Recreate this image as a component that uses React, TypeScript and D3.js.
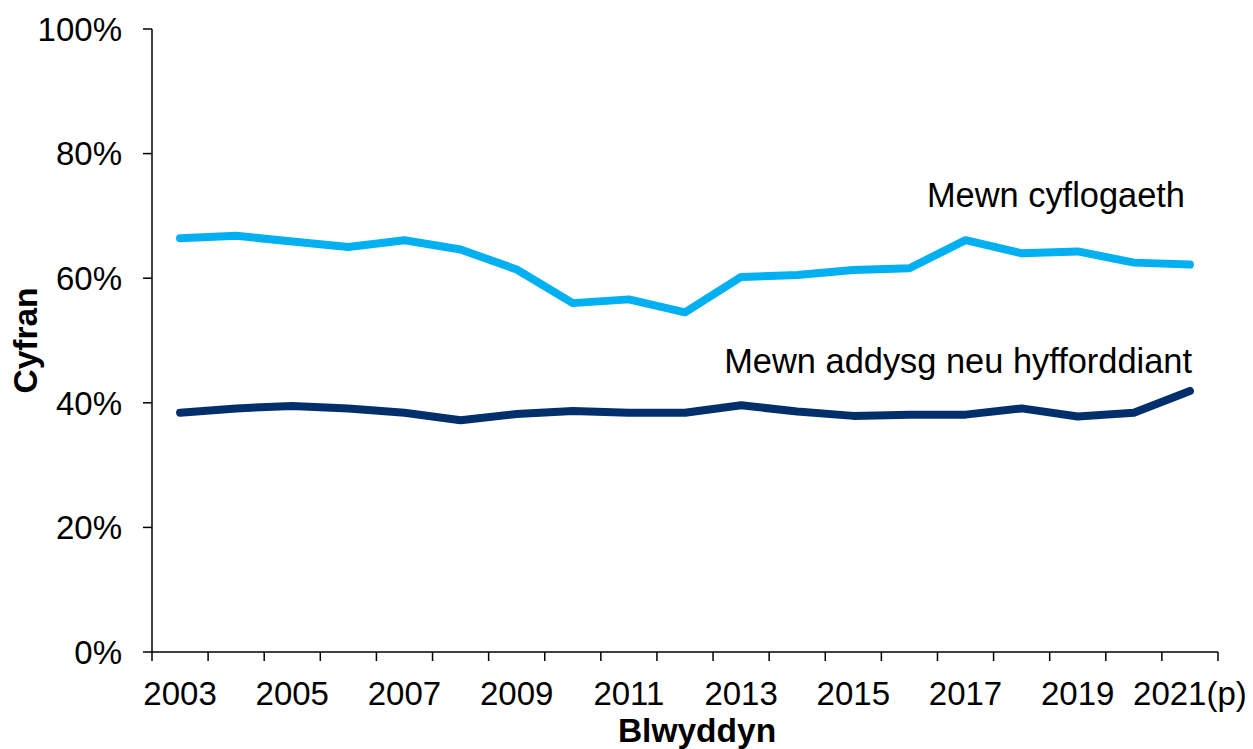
import React from "react";
import * as d3 from "d3";

// years on the x axis (last one provisional)
const years = [
  "2003", "2004", "2005", "2006", "2007", "2008", "2009", "2010", "2011", "2012",
  "2013", "2014", "2015", "2016", "2017", "2018", "2019", "2020", "2021(p)",
];

// share in employment (%)
const employment = [
  66.4, 66.8, 65.9, 65.0, 66.1, 64.6, 61.4, 56.0, 56.6, 54.5,
  60.2, 60.5, 61.3, 61.6, 66.1, 64.0, 64.3, 62.5, 62.2,
];

// share in education or training (%)
const education = [
  38.4, 39.1, 39.5, 39.1, 38.4, 37.2, 38.2, 38.7, 38.4, 38.4,
  39.6, 38.6, 37.9, 38.1, 38.1, 39.1, 37.8, 38.4, 41.9,
];

const yTicks = [0, 20, 40, 60, 80, 100];

const W = 1253;
const H = 749;
const margin = { top: 29, right: 35, bottom: 97, left: 152 };
const font = "Arial, 'Liberation Sans', sans-serif";

export default function App() {
  const x = d3
    .scaleBand()
    .domain(years)
    .range([margin.left, W - margin.right]);

  const y = d3
    .scaleLinear()
    .domain([0, 100])
    .range([H - margin.bottom, margin.top]);

  const cx = (i: number) => (x(years[i]) as number) + x.bandwidth() / 2;

  const line = d3
    .line<number>()
    .x((_, i) => cx(i))
    .y((d) => y(d));

  const x0 = margin.left;
  const x1 = W - margin.right;
  const yBase = y(0);

  return (
    <svg
      width={W}
      height={H}
      style={{ position: "absolute", left: 0, top: 0, background: "#fff" }}
      fontFamily={font}
    >
      {/* y axis */}
      <line x1={x0} x2={x0} y1={y(100)} y2={yBase} stroke="#000" strokeWidth={1.5} />
      {yTicks.map((t) => (
        <g key={t}>
          <line x1={x0 - 9} x2={x0} y1={y(t)} y2={y(t)} stroke="#000" strokeWidth={1.5} />
          <text x={122} y={y(t)} dy="0.36em" textAnchor="end" fontSize={33} fill="#000">
            {t}%
          </text>
        </g>
      ))}

      {/* x axis, ticks on category boundaries */}
      <line x1={x0} x2={x1} y1={yBase} y2={yBase} stroke="#000" strokeWidth={1.5} />
      {years.map((yr) => (
        <line
          key={"t" + yr}
          x1={x(yr) as number}
          x2={x(yr) as number}
          y1={yBase}
          y2={yBase + 9}
          stroke="#000"
          strokeWidth={1.5}
        />
      ))}
      <line x1={x1} x2={x1} y1={yBase} y2={yBase + 9} stroke="#000" strokeWidth={1.5} />
      {years.map((yr, i) =>
        i % 2 === 0 ? (
          <text key={"l" + yr} x={cx(i)} y={705} textAnchor="middle" fontSize={33} fill="#000">
            {yr}
          </text>
        ) : null
      )}

      {/* axis titles */}
      <text x={697} y={742} textAnchor="middle" fontSize={33.5} fontWeight="bold" fill="#000">
        Blwyddyn
      </text>
      <text
        transform={`translate(37,${(y(100) + yBase) / 2}) rotate(-90)`}
        textAnchor="middle"
        fontSize={33.5}
        fontWeight="bold"
        fill="#000"
      >
        Cyfran
      </text>

      {/* series */}
      <path d={line(employment) ?? ""} fill="none" stroke="#00B0F0" strokeWidth={8} strokeLinejoin="round" strokeLinecap="round" />
      <path d={line(education) ?? ""} fill="none" stroke="#002F6C" strokeWidth={8} strokeLinejoin="round" strokeLinecap="round" />

      {/* series labels */}
      <text x={1185} y={207} textAnchor="end" fontSize={34.4} fill="#000">
        Mewn cyflogaeth
      </text>
      <text x={1192} y={373} textAnchor="end" fontSize={34.4} fill="#000">
        Mewn addysg neu hyfforddiant
      </text>
    </svg>
  );
}
